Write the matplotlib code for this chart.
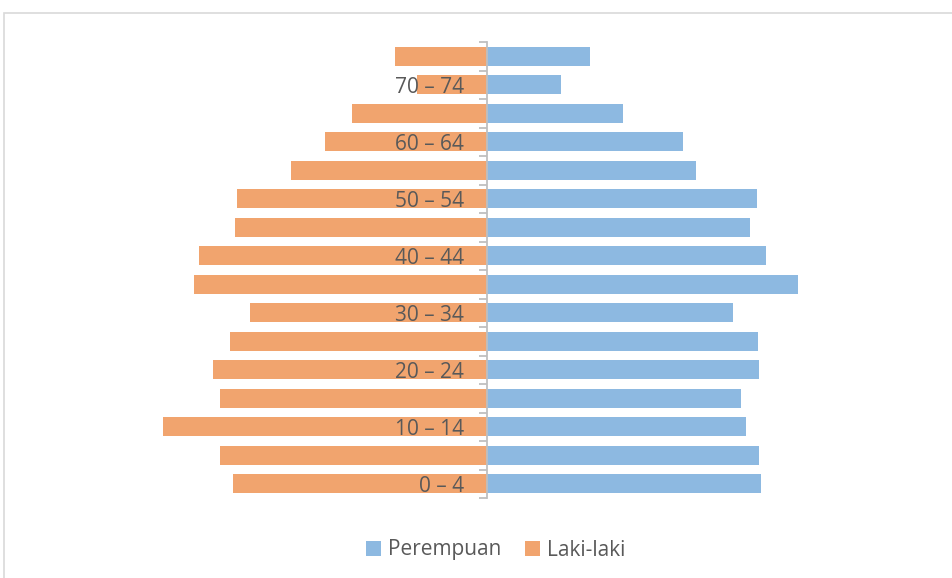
import numpy as np
import matplotlib.pyplot as plt
from matplotlib.patches import Rectangle

# kelompok umur, dari bawah ke atas
kelompok = ['0 – 4', '5 – 9', '10 – 14', '15 – 19', '20 – 24', '25 – 29',
            '30 – 34', '35 – 39', '40 – 44', '45 – 49', '50 – 54', '55 – 59',
            '60 – 64', '65 – 69', '70 – 74', '75+']
perempuan = [274, 272, 259, 254, 272, 271, 246, 311, 279, 263, 270, 209,
             196, 136, 74, 103]
laki_laki = [254, 267, 324, 267, 274, 257, 237, 293, 288, 252, 250, 196,
             162, 135, 70, 92]

c_biru = '#8DB9E1'
c_oranye = '#F1A46E'
c_teks = '#595959'

plt.rcParams['font.family'] = ['Open Sans', 'DejaVu Sans']

fig = plt.figure(figsize=(9.52, 5.78), dpi=100)
W, H = 952, 578
# axes: center at x=487, y range 42..498 px
ax = fig.add_axes([147 / W, 1 - 498 / H, 680 / W, 456 / H])

y = np.arange(len(kelompok))
ax.barh(y, perempuan, height=0.68, color=c_biru, label='Perempuan')
ax.barh(y, -np.array(laki_laki), height=0.68, color=c_oranye, label='Laki-laki')

ax.set_xlim(-340, 340)
ax.set_ylim(-0.5, len(kelompok) - 0.5)

for s in ['top', 'right', 'bottom']:
    ax.spines[s].set_visible(False)
ax.spines['left'].set_position(('data', 0))
ax.spines['left'].set_color('#BFBFBF')
ax.spines['left'].set_linewidth(1.3)
ax.set_xticks([])

ax.set_yticks(y[::2])
ax.set_yticklabels(kelompok[::2])
ax.set_yticks(np.arange(-0.5, len(kelompok)), minor=True)
ax.tick_params(axis='y', which='major', length=0, pad=16.5, labelsize=15,
               labelcolor=c_teks)
ax.tick_params(axis='y', which='minor', length=6, width=1.3, color='#BFBFBF')

leg = fig.legend(loc='center', bbox_to_anchor=(496 / W, 1 - 550 / H), ncol=2,
                 frameon=False, fontsize=15, handlelength=0.7,
                 handleheight=0.7, handletextpad=0.35, columnspacing=1.15)
for t in leg.get_texts():
    t.set_color(c_teks)

# bingkai grafik
fig.patches.append(Rectangle((4 / W, -0.1), 1.1, 1 - 13 / H + 0.1,
                             transform=fig.transFigure, fill=False,
                             edgecolor='#D9D9D9', linewidth=1.2))

fig.savefig('out.png', dpi=100)
